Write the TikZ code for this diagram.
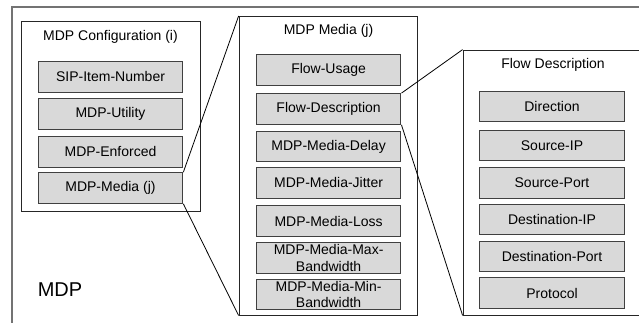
\documentclass[tikz,border=0pt]{standalone}
\usepackage{fontspec}
\setmainfont{Liberation Sans}
\begin{document}
\begin{tikzpicture}[x=0.75pt,y=-0.75pt,
  frame/.style={draw=black!85,line width=0.6pt,inner sep=0pt},
  field/.style={draw=black!75,fill=black!15,line width=0.8pt,minimum width=108.5pt,
    minimum height=23pt,inner sep=0pt,align=center,font=\fontsize{10.5}{11.5}\selectfont},
  twoline/.style={font=\fontsize{10.5}{12.5}\selectfont},
  caption/.style={inner sep=0pt,font=\fontsize{10.5}{12}\selectfont}]
\useasboundingbox (0,0) rectangle (639,323);
\clip (0,0) rectangle (639,323);
\node (mdp) [draw=black!55,line width=1.2pt,inner sep=0pt,minimum width=486pt,minimum height=250pt] at (336,173.5) {};
\node (mdplabel) [inner sep=0pt,font=\fontsize{15}{18}\selectfont] at (60,290) {MDP};

\node (config) [frame,minimum width=134.25pt,minimum height=142.5pt] at (110.5,116) {};
\node (configtitle) [caption] at (110.5,37) {MDP Configuration (i)};
\node (sipitem) [field] at (110.5,77) {SIP-Item-Number};
\node (utility) [field] at (110.5,114) {MDP-Utility};
\node (enforced) [field] at (110.5,152) {MDP-Enforced};
\node (mediaj) [field] at (110.5,188) {MDP-Media (j)};

\node (media) [frame,minimum width=133.5pt,minimum height=224pt] at (328,165.75) {};
\node (mediatitle) [caption] at (328.5,31) {MDP Media (j)};
\node (usage) [field] at (328.6,70) {Flow-Usage};
\node (flowdesc) [field] at (328.6,109) {Flow-Description};
\node (delay) [field] at (328.6,146.5) {MDP-Media-Delay};
\node (jitter) [field] at (328.6,183) {MDP-Media-Jitter};
\node (loss) [field] at (328.6,221) {MDP-Media-Loss};
\node (maxbw) [field,twoline] at (328.6,258) {MDP-Media-Max-\\Bandwidth};
\node (minbw) [field,twoline] at (328.6,294.5) {MDP-Media-Min-\\Bandwidth};

\node (flow) [frame,minimum width=147.75pt,minimum height=198.75pt] at (561.5,182.5) {};
\node (flowtitle) [caption] at (553,65) {Flow Description};
\node (direction) [field] at (552,106.5) {Direction};
\node (srcip) [field] at (552,145.5) {Source-IP};
\node (srcport) [field] at (552,183) {Source-Port};
\node (dstip) [field] at (552,219.5) {Destination-IP};
\node (dstport) [field] at (552,256.5) {Destination-Port};
\node (protocol) [field] at (552,293) {Protocol};

\draw [line width=0.6pt] (mediaj.north east) -- (media.north west);
\draw [line width=0.6pt] (mediaj.south east) -- (media.south west);
\draw [line width=0.6pt] (flowdesc.north east) -- (flow.north west);
\draw [line width=0.6pt] (flowdesc.south east) -- (flow.south west);
\end{tikzpicture}
\end{document}
